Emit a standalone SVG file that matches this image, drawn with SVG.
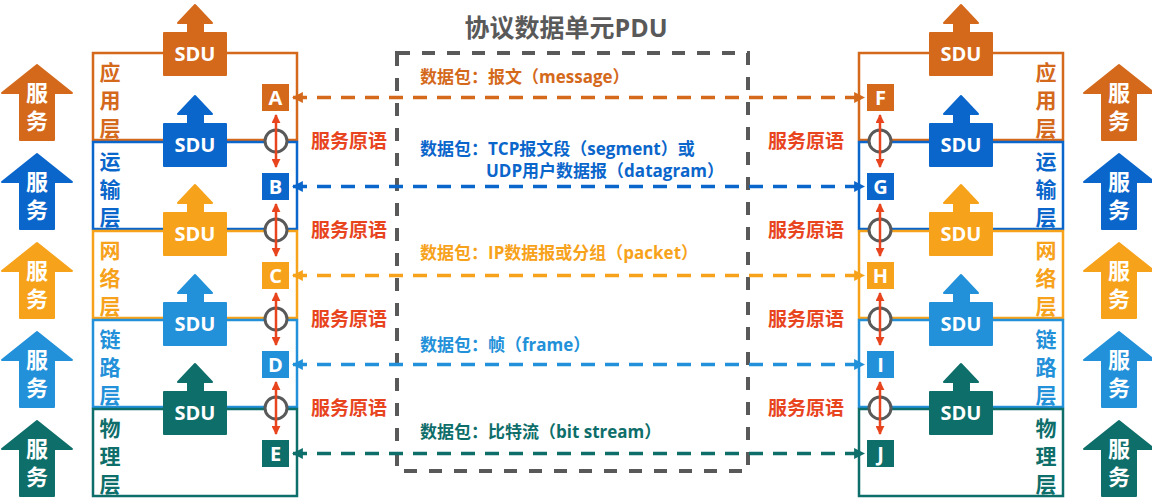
<svg xmlns="http://www.w3.org/2000/svg" width="1152" height="499" viewBox="0 0 1152 499">
<style>
.t{font-family:"Open Sans","Noto Sans CJK SC",sans-serif;font-weight:bold}
.w{fill:#fff}
.mid{text-anchor:middle}
.lay{fill:none;stroke-width:2.5}
.c1{fill:#D4691C}.s1{stroke:#D4691C}
.c2{fill:#0B66CB}.s2{stroke:#0B66CB}
.c3{fill:#F7A21B}.s3{stroke:#F7A21B}
.c4{fill:#2291D9}.s4{stroke:#2291D9}
.c5{fill:#0E6E6A}.s5{stroke:#0E6E6A}
.red{fill:#E8441E}
.dash{fill:none;stroke-width:3.5;stroke-dasharray:14 10}
.ra{stroke:#E8441E;stroke-width:2.5;fill:none}
.circ{fill:#fff;stroke:#595959;stroke-width:3}
.shape{stroke-linejoin:round;stroke-width:2}
</style>
<defs>
<marker id="mr" viewBox="0 0 10 10" refX="9" refY="5" markerWidth="9" markerHeight="9" markerUnits="userSpaceOnUse" orient="auto-start-reverse"><path d="M0,0L10,5L0,10z" fill="#E8441E"/></marker>
<marker id="m1" viewBox="0 0 10 10" refX="9" refY="5" markerWidth="11" markerHeight="11" markerUnits="userSpaceOnUse" orient="auto-start-reverse"><path d="M0,0L10,5L0,10z" fill="#D4691C"/></marker>
<marker id="m2" viewBox="0 0 10 10" refX="9" refY="5" markerWidth="11" markerHeight="11" markerUnits="userSpaceOnUse" orient="auto-start-reverse"><path d="M0,0L10,5L0,10z" fill="#0B66CB"/></marker>
<marker id="m3" viewBox="0 0 10 10" refX="9" refY="5" markerWidth="11" markerHeight="11" markerUnits="userSpaceOnUse" orient="auto-start-reverse"><path d="M0,0L10,5L0,10z" fill="#F7A21B"/></marker>
<marker id="m4" viewBox="0 0 10 10" refX="9" refY="5" markerWidth="11" markerHeight="11" markerUnits="userSpaceOnUse" orient="auto-start-reverse"><path d="M0,0L10,5L0,10z" fill="#2291D9"/></marker>
<marker id="m5" viewBox="0 0 10 10" refX="9" refY="5" markerWidth="11" markerHeight="11" markerUnits="userSpaceOnUse" orient="auto-start-reverse"><path d="M0,0L10,5L0,10z" fill="#0E6E6A"/></marker>
</defs>
<rect width="1152" height="499" fill="#fff"/>

<!-- title -->
<g id="title"><text class="t mid" x="566" y="37" font-size="25" fill="#595959">协议数据单元PDU</text></g>

<!-- PDU dashed box -->
<g id="pdu-box"><rect x="397" y="53" width="351" height="418" fill="none" stroke="#595959" stroke-width="4" stroke-dasharray="13 12"/></g>

<!-- service arrows left -->
<g id="svc-left-app"><path class="c1 s1 shape" d="M37,65L72,93L54,93L54,140L20,140L20,93L2,93Z"/><text class="t w mid" font-size="22"><tspan x="37" y="101">服</tspan><tspan x="37" y="129">务</tspan></text></g>
<g id="svc-left-tra"><path class="c2 s2 shape" d="M37,154L72,182L54,182L54,229L20,229L20,182L2,182Z"/><text class="t w mid" font-size="22"><tspan x="37" y="190">服</tspan><tspan x="37" y="218">务</tspan></text></g>
<g id="svc-left-net"><path class="c3 s3 shape" d="M37,243L72,271L54,271L54,318L20,318L20,271L2,271Z"/><text class="t w mid" font-size="22"><tspan x="37" y="279">服</tspan><tspan x="37" y="307">务</tspan></text></g>
<g id="svc-left-lnk"><path class="c4 s4 shape" d="M37,332L72,360L54,360L54,407L20,407L20,360L2,360Z"/><text class="t w mid" font-size="22"><tspan x="37" y="368">服</tspan><tspan x="37" y="396">务</tspan></text></g>
<g id="svc-left-phy"><path class="c5 s5 shape" d="M37,421L72,449L54,449L54,496L20,496L20,449L2,449Z"/><text class="t w mid" font-size="22"><tspan x="37" y="457">服</tspan><tspan x="37" y="485">务</tspan></text></g>

<!-- service arrows right -->
<g id="svc-right-app"><path class="c1 s1 shape" d="M1119,65L1154,93L1136,93L1136,140L1102,140L1102,93L1084,93Z"/><text class="t w mid" font-size="22"><tspan x="1119" y="101">服</tspan><tspan x="1119" y="129">务</tspan></text></g>
<g id="svc-right-tra"><path class="c2 s2 shape" d="M1119,154L1154,182L1136,182L1136,229L1102,229L1102,182L1084,182Z"/><text class="t w mid" font-size="22"><tspan x="1119" y="190">服</tspan><tspan x="1119" y="218">务</tspan></text></g>
<g id="svc-right-net"><path class="c3 s3 shape" d="M1119,243L1154,271L1136,271L1136,318L1102,318L1102,271L1084,271Z"/><text class="t w mid" font-size="22"><tspan x="1119" y="279">服</tspan><tspan x="1119" y="307">务</tspan></text></g>
<g id="svc-right-lnk"><path class="c4 s4 shape" d="M1119,332L1154,360L1136,360L1136,407L1102,407L1102,360L1084,360Z"/><text class="t w mid" font-size="22"><tspan x="1119" y="368">服</tspan><tspan x="1119" y="396">务</tspan></text></g>
<g id="svc-right-phy"><path class="c5 s5 shape" d="M1119,421L1154,449L1136,449L1136,496L1102,496L1102,449L1084,449Z"/><text class="t w mid" font-size="22"><tspan x="1119" y="457">服</tspan><tspan x="1119" y="485">务</tspan></text></g>

<!-- layer boxes left -->
<g id="left-app"><rect class="lay s1" x="93" y="53" width="204" height="87"/><text class="t mid c1" font-size="21"><tspan x="110" y="80">应</tspan><tspan x="110" y="108">用</tspan><tspan x="110" y="136">层</tspan></text></g>
<g id="left-tra"><rect class="lay s2" x="93" y="142" width="204" height="87"/><text class="t mid c2" font-size="21"><tspan x="110" y="169">运</tspan><tspan x="110" y="197">输</tspan><tspan x="110" y="225">层</tspan></text></g>
<g id="left-net"><rect class="lay s3" x="93" y="231" width="204" height="87"/><text class="t mid c3" font-size="21"><tspan x="110" y="258">网</tspan><tspan x="110" y="286">络</tspan><tspan x="110" y="314">层</tspan></text></g>
<g id="left-lnk"><rect class="lay s4" x="93" y="320" width="204" height="87"/><text class="t mid c4" font-size="21"><tspan x="110" y="347">链</tspan><tspan x="110" y="375">路</tspan><tspan x="110" y="403">层</tspan></text></g>
<g id="left-phy"><rect class="lay s5" x="93" y="409" width="204" height="87"/><text class="t mid c5" font-size="21"><tspan x="110" y="436">物</tspan><tspan x="110" y="464">理</tspan><tspan x="110" y="492">层</tspan></text></g>

<!-- layer boxes right -->
<g id="right-app"><rect class="lay s1" x="859" y="53" width="204" height="87"/><text class="t mid c1" font-size="21"><tspan x="1046" y="80">应</tspan><tspan x="1046" y="108">用</tspan><tspan x="1046" y="136">层</tspan></text></g>
<g id="right-tra"><rect class="lay s2" x="859" y="142" width="204" height="87"/><text class="t mid c2" font-size="21"><tspan x="1046" y="169">运</tspan><tspan x="1046" y="197">输</tspan><tspan x="1046" y="225">层</tspan></text></g>
<g id="right-net"><rect class="lay s3" x="859" y="231" width="204" height="87"/><text class="t mid c3" font-size="21"><tspan x="1046" y="258">网</tspan><tspan x="1046" y="286">络</tspan><tspan x="1046" y="314">层</tspan></text></g>
<g id="right-lnk"><rect class="lay s4" x="859" y="320" width="204" height="87"/><text class="t mid c4" font-size="21"><tspan x="1046" y="347">链</tspan><tspan x="1046" y="375">路</tspan><tspan x="1046" y="403">层</tspan></text></g>
<g id="right-phy"><rect class="lay s5" x="859" y="409" width="204" height="87"/><text class="t mid c5" font-size="21"><tspan x="1046" y="436">物</tspan><tspan x="1046" y="464">理</tspan><tspan x="1046" y="492">层</tspan></text></g>

<!-- SDU arrows left -->
<g id="sdu-left-app"><path class="c1 s1 shape" d="M195,5L212,23L203,23L203,33L226,33L226,75L164,75L164,33L188,33L188,23L178,23Z"/><text class="t w mid" x="195" y="61" font-size="20">SDU</text></g>
<g id="sdu-left-tra"><path class="c2 s2 shape" d="M195,96L212,114L203,114L203,124L226,124L226,166L164,166L164,124L188,124L188,114L178,114Z"/><text class="t w mid" x="195" y="152" font-size="20">SDU</text></g>
<g id="sdu-left-net"><path class="c3 s3 shape" d="M195,185L212,203L203,203L203,213L226,213L226,255L164,255L164,213L188,213L188,203L178,203Z"/><text class="t w mid" x="195" y="241" font-size="20">SDU</text></g>
<g id="sdu-left-lnk"><path class="c4 s4 shape" d="M195,275L212,293L203,293L203,303L226,303L226,345L164,345L164,303L188,303L188,293L178,293Z"/><text class="t w mid" x="195" y="331" font-size="20">SDU</text></g>
<g id="sdu-left-phy"><path class="c5 s5 shape" d="M195,364L212,382L203,382L203,392L226,392L226,434L164,434L164,392L188,392L188,382L178,382Z"/><text class="t w mid" x="195" y="420" font-size="20">SDU</text></g>

<!-- SDU arrows right -->
<g id="sdu-right-app"><path class="c1 s1 shape" d="M961,5L978,23L969,23L969,33L992,33L992,75L930,75L930,33L954,33L954,23L944,23Z"/><text class="t w mid" x="961" y="61" font-size="20">SDU</text></g>
<g id="sdu-right-tra"><path class="c2 s2 shape" d="M961,96L978,114L969,114L969,124L992,124L992,166L930,166L930,124L954,124L954,114L944,114Z"/><text class="t w mid" x="961" y="152" font-size="20">SDU</text></g>
<g id="sdu-right-net"><path class="c3 s3 shape" d="M961,185L978,203L969,203L969,213L992,213L992,255L930,255L930,213L954,213L954,203L944,203Z"/><text class="t w mid" x="961" y="241" font-size="20">SDU</text></g>
<g id="sdu-right-lnk"><path class="c4 s4 shape" d="M961,275L978,293L969,293L969,303L992,303L992,345L930,345L930,303L954,303L954,293L944,293Z"/><text class="t w mid" x="961" y="331" font-size="20">SDU</text></g>
<g id="sdu-right-phy"><path class="c5 s5 shape" d="M961,364L978,382L969,382L969,392L992,392L992,434L930,434L930,392L954,392L954,382L944,382Z"/><text class="t w mid" x="961" y="420" font-size="20">SDU</text></g>

<!-- service access points (circles) -->
<g id="sap-left-1"><circle class="circ" cx="276" cy="141" r="11"/></g>
<g id="sap-left-2"><circle class="circ" cx="276" cy="230" r="11"/></g>
<g id="sap-left-3"><circle class="circ" cx="276" cy="319" r="11"/></g>
<g id="sap-left-4"><circle class="circ" cx="276" cy="408" r="11"/></g>
<g id="sap-right-1"><circle class="circ" cx="880" cy="141" r="11"/></g>
<g id="sap-right-2"><circle class="circ" cx="880" cy="230" r="11"/></g>
<g id="sap-right-3"><circle class="circ" cx="880" cy="319" r="11"/></g>
<g id="sap-right-4"><circle class="circ" cx="880" cy="408" r="11"/></g>

<!-- entity nodes -->
<g id="node-A"><rect class="c1" x="262" y="84" width="27" height="27"/><text class="t w mid" x="275.5" y="105" font-size="20">A</text></g>
<g id="node-B"><rect class="c2" x="262" y="173" width="27" height="27"/><text class="t w mid" x="275.5" y="194" font-size="20">B</text></g>
<g id="node-C"><rect class="c3" x="262" y="262" width="27" height="27"/><text class="t w mid" x="275.5" y="283" font-size="20">C</text></g>
<g id="node-D"><rect class="c4" x="262" y="351" width="27" height="27"/><text class="t w mid" x="275.5" y="372" font-size="20">D</text></g>
<g id="node-E"><rect class="c5" x="262" y="440" width="27" height="27"/><text class="t w mid" x="275.5" y="461" font-size="20">E</text></g>
<g id="node-F"><rect class="c1" x="867" y="84" width="27" height="27"/><text class="t w mid" x="880.5" y="105" font-size="20">F</text></g>
<g id="node-G"><rect class="c2" x="867" y="173" width="27" height="27"/><text class="t w mid" x="880.5" y="194" font-size="20">G</text></g>
<g id="node-H"><rect class="c3" x="867" y="262" width="27" height="27"/><text class="t w mid" x="880.5" y="283" font-size="20">H</text></g>
<g id="node-I"><rect class="c4" x="867" y="351" width="27" height="27"/><text class="t w mid" x="880.5" y="372" font-size="20">I</text></g>
<g id="node-J"><rect class="c5" x="867" y="440" width="27" height="27"/><text class="t w mid" x="880.5" y="461" font-size="20">J</text></g>

<!-- primitive labels -->
<g id="prim-left"><text class="t mid red" font-size="19"><tspan x="349" y="148">服务原语</tspan><tspan x="349" y="237">服务原语</tspan><tspan x="349" y="326">服务原语</tspan><tspan x="349" y="415">服务原语</tspan></text></g>
<g id="prim-right"><text class="t mid red" font-size="19"><tspan x="806" y="148">服务原语</tspan><tspan x="806" y="237">服务原语</tspan><tspan x="806" y="326">服务原语</tspan><tspan x="806" y="415">服务原语</tspan></text></g>

<!-- packet labels -->
<g id="pkt-app"><text class="t c1" x="420" y="83" font-size="17">数据包：报文（message）</text></g>
<g id="pkt-tra"><text class="t c2" font-size="17"><tspan x="420" y="155">数据包：TCP报文段（segment）或</tspan><tspan x="486" y="177">UDP用户数据报（datagram）</tspan></text></g>
<g id="pkt-net"><text class="t c3" x="420" y="259" font-size="17">数据包：IP数据报或分组（packet）</text></g>
<g id="pkt-lnk"><text class="t c4" x="420" y="351" font-size="17">数据包：帧（frame）</text></g>
<g id="pkt-phy"><text class="t c5" x="420" y="438" font-size="17">数据包：比特流（bit stream）</text></g>

<!-- connectors -->
<g id="connectors">
<path class="dash s1" d="M293,97.5H864" marker-start="url(#m1)" marker-end="url(#m1)"/>
<path class="dash s2" d="M293,186.5H864" marker-start="url(#m2)" marker-end="url(#m2)"/>
<path class="dash s3" d="M293,275.5H864" marker-start="url(#m3)" marker-end="url(#m3)"/>
<path class="dash s4" d="M293,364.5H864" marker-start="url(#m4)" marker-end="url(#m4)"/>
<path class="dash s5" d="M293,453.5H864" marker-start="url(#m5)" marker-end="url(#m5)"/>
<path class="ra" d="M276,115V167" marker-start="url(#mr)" marker-end="url(#mr)"/>
<path class="ra" d="M276,204V256" marker-start="url(#mr)" marker-end="url(#mr)"/>
<path class="ra" d="M276,293V345" marker-start="url(#mr)" marker-end="url(#mr)"/>
<path class="ra" d="M276,382V434" marker-start="url(#mr)" marker-end="url(#mr)"/>
<path class="ra" d="M880,115V167" marker-start="url(#mr)" marker-end="url(#mr)"/>
<path class="ra" d="M880,204V256" marker-start="url(#mr)" marker-end="url(#mr)"/>
<path class="ra" d="M880,293V345" marker-start="url(#mr)" marker-end="url(#mr)"/>
<path class="ra" d="M880,382V434" marker-start="url(#mr)" marker-end="url(#mr)"/>
</g>
</svg>
